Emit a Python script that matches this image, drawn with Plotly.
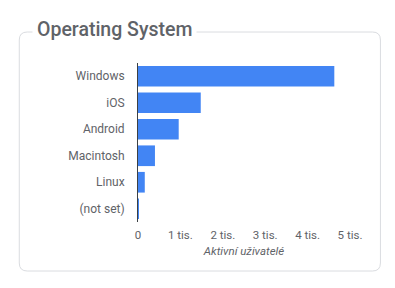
import plotly.graph_objects as go

categories = ["Windows", "iOS", "Android", "Macintosh", "Linux", "(not set)"]
users = [4630, 1480, 960, 400, 160, 15]
tick_values = [0, 1000, 2000, 3000, 4000, 5000]
tick_labels = ["0", "1 tis.", "2 tis.", "3 tis.", "4 tis.", "5 tis."]

W, H = 395, 288
PX0, PX1, PY0, PY1 = 138, 350.5, 63, 222

def fx(px):
    return (px - PX0) / (PX1 - PX0)

def fy(py):
    return (PY1 - py) / (PY1 - PY0)

fig = go.Figure(go.Bar(
    x=users, y=categories, orientation="h",
    marker=dict(color="#4285f4", line=dict(width=0)),
    width=0.78, hoverinfo="x+y",
))

# rounded card border
L, R, T, B, rr = 19, 381, 32, 271, 8
path = (
    f"M {fx(L+rr)},{fy(T)} L {fx(R-rr)},{fy(T)} Q {fx(R)},{fy(T)} {fx(R)},{fy(T+rr)} "
    f"L {fx(R)},{fy(B-rr)} Q {fx(R)},{fy(B)} {fx(R-rr)},{fy(B)} "
    f"L {fx(L+rr)},{fy(B)} Q {fx(L)},{fy(B)} {fx(L)},{fy(B-rr)} "
    f"L {fx(L)},{fy(T+rr)} Q {fx(L)},{fy(T)} {fx(L+rr)},{fy(T)} Z"
)

fig.update_layout(
    width=W, height=H,
    margin=dict(l=PX0, r=W - PX1, t=PY0, b=H - PY1, pad=0),
    paper_bgcolor="white", plot_bgcolor="white",
    font=dict(family="Roboto, Arial, sans-serif", color="#5f6368", size=12),
    showlegend=False,
    bargap=0.22,
    shapes=[dict(type="path", xref="paper", yref="paper", path=path,
                 line=dict(color="#dadce0", width=1), fillcolor="rgba(0,0,0,0)", layer="below")],
    annotations=[dict(
        text="Operating System", xref="paper", yref="paper",
        x=fx(32), y=fy(29.5), xanchor="left", yanchor="middle",
        showarrow=False, bgcolor="white", borderpad=4,
        font=dict(family="Roboto, Arial, sans-serif", size=19.5, color="#5f6368", weight=500),
    )],
)
fig.update_xaxes(
    range=[0, 5000], tickvals=tick_values, ticktext=tick_labels,
    showgrid=False, zeroline=False, showline=False, ticks="",
    ticklabelstandoff=4,
    tickfont=dict(size=11.5, color="#5f6368"),
    title=dict(text="<i>Aktivní uživatelé</i>", font=dict(size=11.5, color="#5f6368"), standoff=6),
    fixedrange=True,
)
fig.update_yaxes(
    autorange="reversed", showgrid=False, zeroline=False,
    showline=True, linecolor="#3c4043", linewidth=1, ticks="",
    ticklabelstandoff=10,
    tickfont=dict(size=12, color="#5f6368"), fixedrange=True,
)
fig.write_html("out.html", config={"displayModeBar": False})
